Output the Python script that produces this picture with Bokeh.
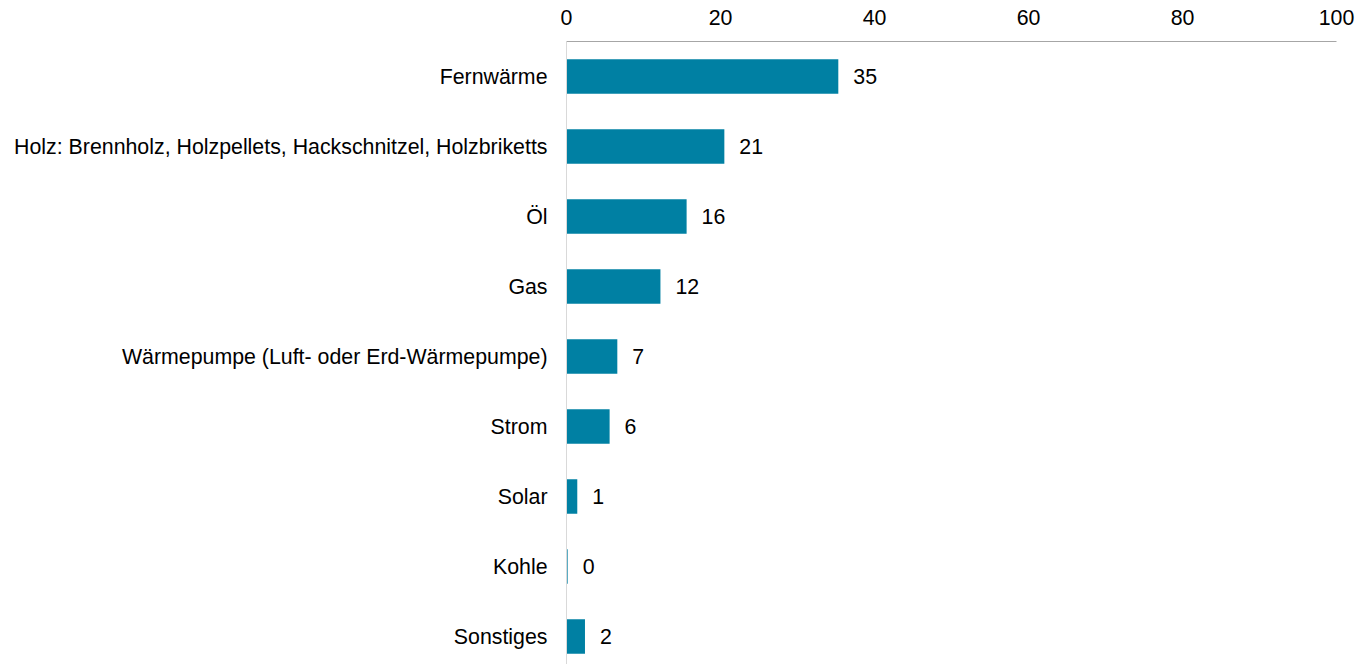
from bokeh.plotting import figure
from bokeh.models import ColumnDataSource, Range1d, FixedTicker
from bokeh.embed import file_html
from bokeh.resources import INLINE

categories = ["Fernwärme", "Holz: Brennholz, Holzpellets, Hackschnitzel, Holzbriketts", "Öl", "Gas",
              "Wärmepumpe (Luft- oder Erd-Wärmepumpe)", "Strom", "Solar", "Kohle", "Sonstiges"]
values = [35.3, 20.5, 15.6, 12.2, 6.6, 5.6, 1.4, 0.15, 2.4]
value_labels = ["35", "21", "16", "12", "7", "6", "1", "0", "2"]
x_ticks = [0, 20, 40, 60, 80, 100]

FONT = "Liberation Sans"
FS = "16pt"
pos = list(range(len(categories)))
src = ColumnDataSource(dict(y=pos, v=values, lab=value_labels))

p = figure(width=1363, height=664, output_backend="svg", toolbar_location=None,
           x_range=Range1d(0, 100), y_range=Range1d(8.4, -0.5),
           x_axis_location="above", min_border_left=566, min_border_right=27,
           min_border_top=41, min_border_bottom=0)
p.outline_line_color = None
p.xgrid.visible = False
p.ygrid.visible = False

p.hbar(y="y", right="v", left=0, height=0.49, source=src, color="#0080A3", line_color=None)
p.text(x="v", y="y", text="lab", source=src, x_offset=15, text_baseline="middle", text_align="left",
       text_font_size=FS, text_color="#000000", text_font={"value": FONT})

xa = p.xaxis[0]
xa.ticker = FixedTicker(ticks=x_ticks)
xa.major_tick_line_color = None
xa.minor_tick_line_color = None
xa.axis_line_color = "#A6A6A6"
xa.major_label_text_font = FONT
xa.major_label_text_font_size = FS
xa.major_label_text_color = "#000000"
xa.major_label_standoff = 11

ya = p.yaxis[0]
ya.ticker = FixedTicker(ticks=pos)
ya.major_label_overrides = {i: c for i, c in enumerate(categories)}
ya.major_tick_line_color = None
ya.minor_tick_line_color = None
ya.axis_line_color = "#D9D9D9"
ya.major_label_text_font = FONT
ya.major_label_text_font_size = FS
ya.major_label_text_color = "#000000"
ya.major_label_standoff = 13

open("out.html", "w").write(file_html(p, INLINE))
